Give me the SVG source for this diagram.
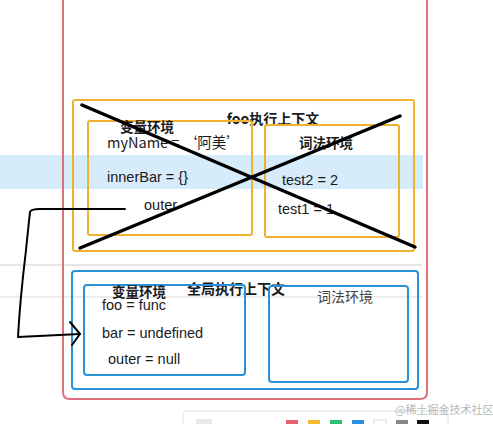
<svg xmlns="http://www.w3.org/2000/svg" width="493" height="424" viewBox="0 0 493 424">
<style>
.t{font-family:"Liberation Sans","Noto Sans CJK SC",sans-serif;fill:#1a1a1a}
.c{font-family:"Noto Sans CJK SC","Liberation Sans",sans-serif;fill:#1a1a1a}
.b{font-weight:bold}
.o{fill:none;stroke:#f0b030;stroke-width:2}
.bl{fill:none;stroke:#2a90d8;stroke-width:2}
.x{stroke:#000;stroke-width:3.5;stroke-linecap:round}
</style>
<rect width="493" height="424" fill="#fff"/>
<rect x="0" y="155" width="423" height="34" fill="#d6ecfa"/>
<line x1="0" y1="265" x2="422" y2="265" stroke="#e6e6e6" stroke-width="2"/>
<line x1="0" y1="297" x2="422" y2="297" stroke="#ececec" stroke-width="2"/>
<path d="M63,-5 V392 Q63,399 70,399 H420 Q427,399 427,392 V-5" fill="none" stroke="#df6f7a" stroke-width="2"/>
<g id="foo-context">
<rect class="o" x="73" y="100" width="341" height="151" rx="2"/>
<text class="c b" x="273" y="124" font-size="14" text-anchor="middle">foo执行上下文</text>
</g>
<g id="foo-var-env">
<rect class="o" x="88" y="121" width="164" height="114" rx="2"/>
<text class="c b" x="147" y="132" font-size="13.5" text-anchor="middle">变量环境</text>
<text class="c" x="107" y="148" font-size="14.5">myName = ‘阿美’</text>
<text class="t" x="107" y="182" font-size="14.5">innerBar = {}</text>
<text class="t" x="144" y="210" font-size="14.5">outer</text>
</g>
<g id="foo-lex-env">
<rect class="o" x="265" y="125" width="134" height="112" rx="2"/>
<text class="c b" x="326" y="148" font-size="13.5" text-anchor="middle">词法环境</text>
<text class="t" x="282" y="185" font-size="14.5">test2 = 2</text>
<text class="t" x="278" y="214" font-size="14.5">test1 = 1</text>
</g>
<g id="global-context">
<rect class="bl" x="72" y="271" width="346" height="118" rx="3"/>
<text class="c b" x="236" y="294" font-size="14" text-anchor="middle">全局执行上下文</text>
</g>
<g id="global-var-env">
<rect class="bl" x="84" y="285" width="161" height="90" rx="3"/>
<text class="c b" x="139" y="297" font-size="13.5" text-anchor="middle">变量环境</text>
<text class="t" x="102" y="310" font-size="14.5">foo = func</text>
<text class="t" x="102" y="338" font-size="14.5">bar = undefined</text>
<text class="t" x="108" y="364" font-size="14.5">outer = null</text>
</g>
<g id="global-lex-env">
<rect class="bl" x="269" y="286" width="139" height="96" rx="3"/>
<text class="c" x="345" y="302" font-size="14" text-anchor="middle" style="fill:#444">词法环境</text>
</g>
<g id="connectors">
<line class="x" x1="82" y1="105" x2="415" y2="247"/>
<line class="x" x1="80" y1="248" x2="400" y2="116"/>
<path d="M125,209 L40,209 Q31,209 30,212 Q28,230 26,250 Q20,300 18,337 L80,334" fill="none" stroke="#000" stroke-width="2" stroke-linejoin="round" stroke-linecap="round"/>
<path d="M70,322 L80,334 L72,345" fill="none" stroke="#000" stroke-width="2" stroke-linecap="round" stroke-linejoin="round"/>
</g>
<g id="toolbar">
<rect x="183" y="411" width="265" height="20" rx="4" fill="#fff" stroke="#e2e2e2"/>
<rect x="196" y="419" width="16" height="8" fill="#e8e8e8"/>
<rect x="286" y="420" width="12" height="6" fill="#e8606e"/>
<rect x="308" y="420" width="12" height="6" fill="#f5b82e"/>
<rect x="330" y="420" width="12" height="6" fill="#2cc36b"/>
<rect x="352" y="420" width="12" height="6" fill="#2b8fe0"/>
<rect x="374" y="420" width="12" height="6" fill="#fff" stroke="#ddd"/>
<rect x="396" y="420" width="12" height="6" fill="#888"/>
<rect x="417" y="420" width="12" height="6" fill="#111"/>
<text class="c" x="395" y="414" font-size="11" style="fill:#b8b8b8">@稀土掘金技术社区</text>
</g>
</svg>
